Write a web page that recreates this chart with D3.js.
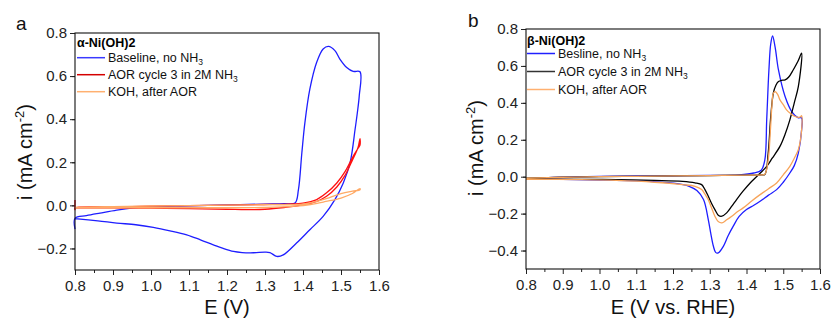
<!DOCTYPE html>
<html>
<head>
<meta charset="utf-8">
<script src="https://cdn.jsdelivr.net/npm/d3@7"></script>
<style>
  body { margin: 0; background: #fff; }
  svg { font-family: Arial, "Liberation Sans", sans-serif; }
</style>
</head>
<body>
<svg id="chart" width="832" height="324"></svg>
<script>
// ---- panel a : alpha-Ni(OH)2 ----
var aBaseE = [0.800,0.800,0.830,0.866,0.910,0.953,1.000,1.100,1.200,1.300,1.350,1.379,1.388,1.397,1.405,1.418,1.436,1.453,1.467,1.484,1.497,1.515,1.532,1.550,
              1.548,1.543,1.537,1.524,1.506,1.484,1.453,1.418,1.383,1.348,1.331,1.313,1.300,1.270,1.240,1.217,1.190,1.164,1.130,1.094,1.050,1.006,0.960,0.910,0.860,0.800]
var aBaseI = [-0.110,-0.060,-0.048,-0.036,-0.022,-0.012,-0.006,-0.002,0.002,0.006,0.008,0.011,0.073,0.244,0.384,0.539,0.664,0.726,0.738,0.718,0.679,0.640,0.622,0.620,
              0.508,0.430,0.352,0.198,0.104,0.027,-0.051,-0.113,-0.175,-0.230,-0.237,-0.219,-0.217,-0.220,-0.219,-0.214,-0.200,-0.183,-0.160,-0.137,-0.118,-0.102,-0.090,-0.082,-0.072,-0.062]

var aAorE = [0.800,0.800,0.800,0.900,1.000,1.100,1.200,1.300,1.360,1.400,1.436,1.462,1.489,1.511,1.532,1.545,1.550,1.550,
             1.545,1.530,1.511,1.489,1.462,1.436,1.400,1.350,1.300,1.250,1.200,1.100,1.000,0.900,0.800]
var aAorI = [0.025,-0.020,-0.012,-0.008,-0.004,-0.001,0.001,0.004,0.006,0.010,0.027,0.058,0.104,0.158,0.228,0.265,0.280,0.310,
             0.270,0.210,0.140,0.085,0.042,0.018,0.002,-0.010,-0.018,-0.020,-0.018,-0.015,-0.013,-0.012,-0.012]

var aKohE = [0.800,0.900,1.000,1.100,1.200,1.300,1.400,1.450,1.500,1.530,1.550,1.550,1.530,1.500,1.460,1.420,1.380,1.300,1.200,1.100,1.000,0.900,0.800]
var aKohI = [-0.010,-0.006,-0.003,-0.001,0.001,0.003,0.006,0.025,0.055,0.066,0.072,0.078,0.055,0.034,0.018,0.004,-0.004,-0.010,-0.011,-0.011,-0.011,-0.011,-0.011]

// ---- panel b : beta-Ni(OH)2 ----
var bBaseE = [0.800,0.850,0.900,1.000,1.100,1.200,1.300,1.380,1.420,1.440,1.450,1.455,1.461,1.466,1.471,1.478,1.487,1.505,1.523,1.540,1.550,
              1.550,1.541,1.530,1.518,1.500,1.482,1.460,1.437,1.420,1.400,1.380,1.364,1.350,1.337,1.323,1.316,1.310,1.303,1.296,1.283,1.265,1.244,1.200,1.135,1.000,0.900,0.800]
var bBaseI = [-0.012,-0.006,-0.002,0.002,0.004,0.005,0.007,0.010,0.020,0.035,0.092,0.308,0.578,0.720,0.762,0.700,0.578,0.434,0.353,0.320,0.318,
              0.254,0.128,0.060,0.020,-0.030,-0.070,-0.100,-0.133,-0.155,-0.178,-0.215,-0.268,-0.320,-0.377,-0.413,-0.410,-0.377,-0.310,-0.232,-0.124,-0.075,-0.052,-0.035,-0.025,-0.018,-0.015,-0.012]

var bAorE = [0.800,0.900,1.000,1.100,1.200,1.300,1.400,1.440,1.450,1.459,1.466,1.473,1.480,1.487,1.495,1.505,1.515,1.527,1.540,1.550,
             1.541,1.530,1.518,1.505,1.491,1.470,1.455,1.430,1.410,1.390,1.373,1.360,1.346,1.333,1.324,1.314,1.305,1.296,1.287,1.278,1.260,1.226,1.150,1.045,0.950,0.800]
var bAorI = [-0.008,-0.003,0.000,0.002,0.004,0.006,0.008,0.010,0.012,0.128,0.326,0.452,0.495,0.515,0.522,0.524,0.540,0.578,0.625,0.669,
             0.488,0.400,0.308,0.230,0.164,0.100,0.056,0.005,-0.034,-0.080,-0.124,-0.160,-0.196,-0.214,-0.210,-0.178,-0.145,-0.106,-0.070,-0.043,-0.033,-0.025,-0.020,-0.016,-0.014,-0.012]

var bKohE = [0.800,0.900,1.000,1.100,1.200,1.300,1.400,1.440,1.450,1.459,1.465,1.469,1.473,1.478,1.485,1.491,1.500,1.509,1.520,1.532,1.545,1.550,
             1.550,1.541,1.530,1.518,1.500,1.482,1.460,1.437,1.415,1.391,1.375,1.360,1.345,1.333,1.323,1.314,1.305,1.296,1.287,1.278,1.260,1.226,1.150,1.045,0.950,0.800]
var bKohI = [-0.008,-0.003,0.000,0.002,0.004,0.006,0.008,0.010,0.014,0.092,0.250,0.380,0.452,0.461,0.445,0.416,0.390,0.362,0.342,0.326,0.322,0.330,
             0.254,0.146,0.100,0.056,0.010,-0.034,-0.065,-0.097,-0.130,-0.169,-0.190,-0.214,-0.235,-0.250,-0.243,-0.214,-0.170,-0.124,-0.095,-0.070,-0.052,-0.043,-0.030,-0.020,-0.016,-0.014]

var xTicks = [0.8, 0.9, 1.0, 1.1, 1.2, 1.3, 1.4, 1.5, 1.6]
var aYTicks = [-0.2, 0.0, 0.2, 0.4, 0.6, 0.8]
var bYTicks = [-0.4, -0.2, 0.0, 0.2, 0.4, 0.6, 0.8]

var panels = [
    {
        letter: "a", lx: 16, ly: 30,
        left: 75, right: 379, top: 33, bottom: 270,
        yDomain: [-0.3, 0.8], yTicks: aYTicks,
        xTitle: "E (V)", xTitleX: 227,
        yTitleX: 32, yTitleY: 152,
        legendTitle: "α-Ni(OH)2", legX: 77, legY: 47, legFirst: 10.7, legStep: 17,
        series: [
            {E: aBaseE, I: aBaseI, color: "#1e1eff", name: "Baseline, no NH", sub: "3"},
            {E: aAorE, I: aAorI, color: "#ff1010", name: "AOR cycle 3 in 2M NH", sub: "3"},
            {E: aKohE, I: aKohI, color: "#ffaa66", name: "KOH, after AOR", sub: ""}
        ],
        legendColors: ["#3a3aff", "#d40000", "#ffb070"]
    },
    {
        letter: "b", lx: 468, ly: 27,
        left: 526, right: 820, top: 29, bottom: 269,
        yDomain: [-0.5, 0.8], yTicks: bYTicks,
        xTitle: "E (V vs. RHE)", xTitleX: 673,
        yTitleX: 483, yTitleY: 148,
        legendTitle: "β-Ni(OH)2", legX: 527, legY: 44.5, legFirst: 9, legStep: 18,
        series: [
            {E: bBaseE, I: bBaseI, color: "#1e1eff", name: "Besline, no NH", sub: "3"},
            {E: bAorE, I: bAorI, color: "#000000", name: "AOR cycle 3 in 2M NH", sub: "3"},
            {E: bKohE, I: bKohI, color: "#f7a45a", name: "KOH, after AOR", sub: ""}
        ],
        legendColors: ["#2020ff", "#333333", "#ffb070"]
    }
]

var svg = d3.select("#chart")

panels.forEach(function (p) {
    var x = d3.scaleLinear().domain([0.8, 1.6]).range([p.left, p.right])
    var y = d3.scaleLinear().domain(p.yDomain).range([p.bottom, p.top])

    var g = svg.append("g")

    // minor ticks
    var xMinor = d3.range(0.85, 1.6, 0.1)
    var yMinor = d3.range(p.yDomain[0] + 0.1, p.yDomain[1], 0.2)

    var xAxis = g.append("g")
        .attr("transform", "translate(0," + p.bottom + ")")
        .call(d3.axisBottom(x).tickValues(xTicks).tickFormat(d3.format(".1f")).tickSize(5).tickPadding(5))
    xAxis.select(".domain").remove()
    g.append("g")
        .attr("transform", "translate(0," + p.bottom + ")")
        .call(d3.axisBottom(x).tickValues(xMinor).tickFormat("").tickSize(3))
        .select(".domain").remove()

    var yAxis = g.append("g")
        .attr("transform", "translate(" + p.left + ",0)")
        .call(d3.axisLeft(y).tickValues(p.yTicks).tickFormat(d3.format(".1f")).tickSize(5).tickPadding(3))
    yAxis.select(".domain").remove()
    g.append("g")
        .attr("transform", "translate(" + p.left + ",0)")
        .call(d3.axisLeft(y).tickValues(yMinor).tickFormat("").tickSize(3))
        .select(".domain").remove()

    g.selectAll(".tick text")
        .style("font-size", "15px")
        .style("font-family", "Arial, 'Liberation Sans', sans-serif")
        .attr("fill", "#222")
    g.selectAll(".tick line").attr("stroke", "#222")

    // curves
    var line = d3.line()
        .x(d => x(d[0]))
        .y(d => y(d[1]))
        .curve(d3.curveCatmullRom.alpha(0.5))

    p.series.forEach(function (s) {
        var pts = s.E.map((e, k) => [e, s.I[k]])
        g.append("path")
            .datum(pts)
            .attr("d", line)
            .attr("fill", "none")
            .attr("stroke", s.color)
            .attr("stroke-width", 1.3)
            .attr("stroke-linejoin", "round")
    })

    // frame
    g.append("rect")
        .attr("x", p.left).attr("y", p.top)
        .attr("width", p.right - p.left).attr("height", p.bottom - p.top)
        .attr("fill", "none").attr("stroke", "#111").attr("stroke-width", 1.1)

    // legend
    var leg = g.append("g")
    leg.append("text")
        .attr("x", p.legX).attr("y", p.legY)
        .attr("font-size", 12.5).attr("font-weight", "bold")
        .text(p.legendTitle)
    p.series.forEach(function (s, k) {
        var ly = p.legY + p.legFirst + k * p.legStep
        leg.append("line")
            .attr("x1", p.legX).attr("x2", p.legX + 28)
            .attr("y1", ly).attr("y2", ly)
            .attr("stroke", p.legendColors[k]).attr("stroke-width", 1.5)
        var t = leg.append("text")
            .attr("x", p.legX + 31).attr("y", ly + 4.3)
            .attr("font-size", 12.5).attr("fill", "#111")
        t.append("tspan").text(s.name)
        if (s.sub) t.append("tspan").attr("dy", 3).attr("font-size", 8.5).text(s.sub)
    })

    // axis titles
    g.append("text")
        .attr("x", p.xTitleX).attr("y", 314)
        .attr("text-anchor", "middle").attr("font-size", 20).attr("fill", "#111")
        .text(p.xTitle)

    var yt = g.append("text")
        .attr("transform", "translate(" + p.yTitleX + "," + p.yTitleY + ") rotate(-90)")
        .attr("text-anchor", "middle").attr("font-size", 20).attr("fill", "#111")
    yt.append("tspan").text("i (mA cm")
    yt.append("tspan").attr("dy", -8).attr("font-size", 13).text("-2")
    yt.append("tspan").attr("dy", 8).text(")")

    // panel letter
    g.append("text")
        .attr("x", p.lx).attr("y", p.ly)
        .attr("font-size", 19).attr("fill", "#111")
        .text(p.letter)
})
</script>
</body>
</html>
